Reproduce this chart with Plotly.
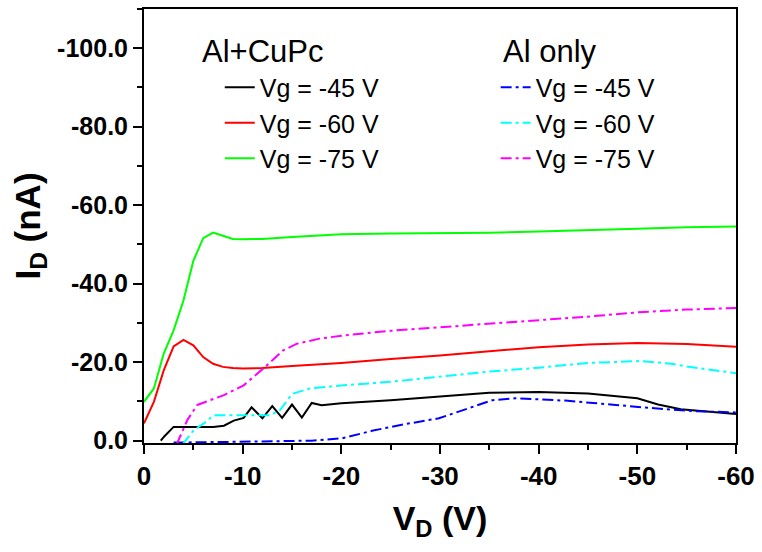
import plotly.graph_objects as go

# ---- data ----
cu45_x = [-1.7, -2.1, -3.0, -7.0, -8.1, -9.1, -10.1, -10.9, -12.0, -13.0, -14.0, -15.0, -16.0, -17.0, -18.0,
          -20.0, -25.0, -30.0, -35.0, -40.0, -45.0, -50.0, -52.1, -54.4, -57.0, -60.0]
cu45_y = [0.0, -1.2, -3.5, -3.5, -3.8, -5.1, -5.8, -8.5, -5.7, -8.8, -5.8, -9.2, -5.9, -9.6, -9.0,
          -9.5, -10.3, -11.2, -12.2, -12.4, -12.0, -10.8, -9.2, -8.0, -7.4, -6.8]

cu60_x = [0.0, -1.0, -2.0, -3.0, -4.0, -5.0, -6.0, -7.0, -8.0, -9.0, -10.0, -12.0, -15.0, -20.0,
          -25.0, -30.0, -35.0, -40.0, -45.0, -50.0, -55.0, -60.0]
cu60_y = [-4.4, -9.9, -17.9, -24.0, -25.7, -24.3, -21.3, -19.6, -18.8, -18.5, -18.4, -18.5, -19.0, -19.8,
          -20.8, -21.7, -22.8, -23.8, -24.5, -24.9, -24.6, -23.9]

cu75_x = [0.0, -1.0, -2.0, -3.0, -4.0, -5.0, -6.0, -7.0, -8.0, -9.0, -10.0, -12.0, -15.0, -20.0,
          -25.0, -30.0, -35.0, -40.0, -45.0, -50.0, -55.0, -60.0]
cu75_y = [-9.9, -13.3, -22.2, -28.1, -35.7, -45.8, -51.6, -53.0, -52.2, -51.4, -51.3, -51.4, -51.9, -52.6,
          -52.8, -52.9, -53.0, -53.3, -53.6, -54.0, -54.4, -54.6]

al45_x = [-3.0, -7.0, -12.0, -17.0, -20.1, -23.1, -26.0, -29.9, -33.2, -35.3, -37.6, -42.7, -47.8, -52.8, -56.0, -60.0]
al45_y = [0.5, 0.3, 0.2, 0.0, -0.6, -2.5, -4.0, -5.7, -8.5, -10.3, -10.8, -10.2, -9.1, -8.0, -7.5, -7.2]

al60_x = [-3.9, -5.05, -6.06, -7.07, -10.1, -12.8, -13.8, -15.0, -16.8, -20.2, -25.0, -30.0, -35.0, -40.0,
          -45.0, -50.4, -53.4, -55.0, -60.0]
al60_y = [1.0, -2.7, -4.4, -6.5, -6.5, -6.5, -7.8, -11.9, -13.3, -14.1, -15.0, -16.3, -17.6, -18.6,
          -19.8, -20.3, -19.6, -18.9, -17.2]

al75_x = [-3.3, -4.4, -5.4, -6.7, -8.1, -10.1, -12.1, -14.1, -15.5, -17.8, -20.2, -25.0, -32.6, -40.0,
          -45.0, -50.0, -55.0, -60.0]
al75_y = [1.0, -5.3, -9.1, -10.3, -11.6, -14.1, -18.4, -23.0, -24.7, -26.0, -26.8, -28.0, -29.4, -30.6,
          -31.6, -32.7, -33.4, -33.8]

legend_labels = ["Vg = -45 V", "Vg = -60 V", "Vg = -75 V"]
group_titles = ["Al+CuPc", "Al only"]

x_ticks = [0, -10, -20, -30, -40, -50, -60]
x_ticktext = ["0", "-10", "-20", "-30", "-40", "-50", "-60"]
y_ticks = [0, -20, -40, -60, -80, -100]
y_ticktext = ["0.0", "-20.0", "-40.0", "-60.0", "-80.0", "-100.0"]

FONT = "Liberation Sans, Arial, sans-serif"
DASH = "11px,4px,3px,4px"

fig = go.Figure()

solid = [(cu45_x, cu45_y, "#000000"), (cu60_x, cu60_y, "#ff0000"), (cu75_x, cu75_y, "#00ff00")]
dashed = [(al45_x, al45_y, "#0000ff"), (al60_x, al60_y, "#00ffff"), (al75_x, al75_y, "#ff00ff")]

for i, (xs, ys, c) in enumerate(solid):
    fig.add_trace(go.Scatter(x=xs, y=ys, mode="lines", name=legend_labels[i],
                             line=dict(color=c, width=2), legend="legend",
                             legendgroup="a%d" % i))
for i, (xs, ys, c) in enumerate(dashed):
    fig.add_trace(go.Scatter(x=xs, y=ys, mode="lines", name=legend_labels[i],
                             line=dict(color=c, width=2, dash=DASH), legend="legend2",
                             legendgroup="b%d" % i))

axis_common = dict(
    showline=True, linecolor="black", linewidth=2, mirror=True,
    ticks="outside", ticklen=9, tickwidth=2, tickcolor="black",
    showgrid=False, zeroline=False,
)

fig.update_layout(
    width=762, height=552,
    margin=dict(l=144, r=23, t=7, b=109),
    paper_bgcolor="white", plot_bgcolor="white",
    font=dict(family=FONT, color="black"),
    xaxis=dict(range=[0, -60], tickvals=x_ticks, ticktext=x_ticktext,
               tickfont=dict(family=FONT, size=26, color="black", weight="bold"),
               minor=dict(ticks="outside", ticklen=5, tickwidth=2, tickcolor="black", dtick=5, tick0=0),
               title=dict(text="V<sub>D</sub> (V)", standoff=16,
                          font=dict(family=FONT, size=34, color="black", weight="bold")),
               **axis_common),
    yaxis=dict(range=[0.6, -110], tickvals=y_ticks, ticktext=y_ticktext,
               tickfont=dict(family=FONT, size=25, color="black", weight="bold"),
               minor=dict(ticks="outside", ticklen=5, tickwidth=2, tickcolor="black", dtick=10, tick0=0),
               ticklabelstandoff=0,
               title=dict(text="I<sub>D</sub> (nA)", standoff=6,
                          font=dict(family=FONT, size=35, color="black", weight="bold")),
               **axis_common),
    legend=dict(x=0.128, y=0.872, xanchor="left", yanchor="top", bgcolor="rgba(0,0,0,0)",
                font=dict(family=FONT, size=25, color="black"), tracegroupgap=0,
                itemwidth=30),
    legend2=dict(x=0.594, y=0.872, xanchor="left", yanchor="top", bgcolor="rgba(0,0,0,0)",
                 font=dict(family=FONT, size=25, color="black"), tracegroupgap=0,
                 itemwidth=30),
    annotations=[
        dict(text=group_titles[0], xref="paper", yref="paper", x=(200 - 144) / 594.5,
             y=(443 - 50) / 436, xanchor="left", yanchor="middle", showarrow=False,
             font=dict(family=FONT, size=31, color="black")),
        dict(text=group_titles[1], xref="paper", yref="paper", x=(503 - 144) / 594.5,
             y=(443 - 50) / 436, xanchor="left", yanchor="middle", showarrow=False,
             font=dict(family=FONT, size=31, color="black")),
    ],
)

fig.write_html("out.html")
